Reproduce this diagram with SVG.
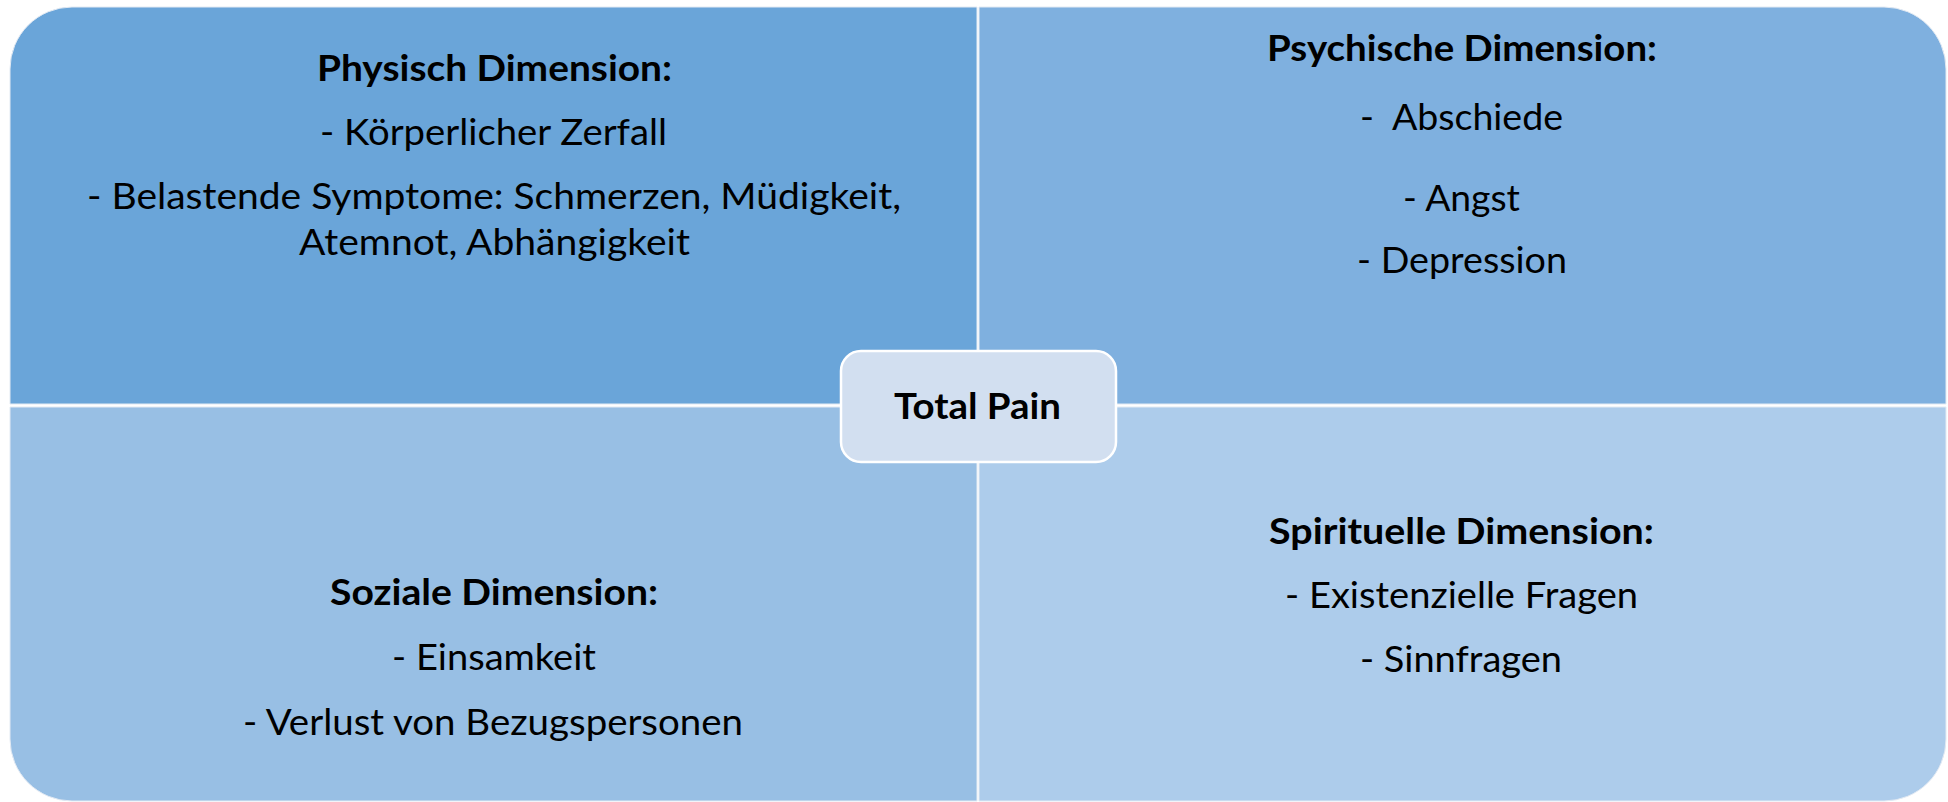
<svg xmlns="http://www.w3.org/2000/svg" width="1948" height="802" viewBox="0 0 1948 802">
<style>
text{font-family:Lato,"Open Sans","Liberation Sans",sans-serif;font-size:37px;fill:#000}
.h{font-weight:bold}
.q{stroke:#e3eaf3;stroke-width:1}
</style>
<rect x="0" y="0" width="1948" height="802" fill="#fff"/>
<g id="physisch">
<path class="q" d="M10,404 V69 A62,62 0 0 1 72,7 H977 V404 Z" fill="#6aa5d9"/>
<text class="h" x="317" y="81" textLength="355" lengthAdjust="spacingAndGlyphs">Physisch Dimension:</text>
<text x="320" y="145" textLength="347" lengthAdjust="spacingAndGlyphs">- Körperlicher Zerfall</text>
<text x="87" y="209" textLength="814" lengthAdjust="spacingAndGlyphs">- Belastende Symptome: Schmerzen, Müdigkeit,</text>
<text x="299" y="255" textLength="391" lengthAdjust="spacingAndGlyphs">Atemnot, Abhängigkeit</text>
</g>
<g id="psychisch">
<path class="q" d="M979,7 H1884 A62,62 0 0 1 1946,69 V404 H979 Z" fill="#7fb0df"/>
<text class="h" x="1267" y="61" textLength="390" lengthAdjust="spacingAndGlyphs">Psychische Dimension:</text>
<text x="1360" y="130" textLength="203" lengthAdjust="spacingAndGlyphs" xml:space="preserve" style="white-space:pre">-  Abschiede</text>
<text x="1403" y="211" textLength="117" lengthAdjust="spacingAndGlyphs">- Angst</text>
<text x="1357" y="273" textLength="210" lengthAdjust="spacingAndGlyphs">- Depression</text>
</g>
<g id="sozial">
<path class="q" d="M10,407 H977 V801 H72 A62,62 0 0 1 10,739 Z" fill="#98bfe4"/>
<text class="h" x="330" y="605" textLength="328" lengthAdjust="spacingAndGlyphs">Soziale Dimension:</text>
<text x="392" y="670" textLength="204" lengthAdjust="spacingAndGlyphs">- Einsamkeit</text>
<text x="243" y="735" textLength="500" lengthAdjust="spacingAndGlyphs">- Verlust von Bezugspersonen</text>
</g>
<g id="spirituell">
<path class="q" d="M979,407 H1946 V739 A62,62 0 0 1 1884,801 H979 Z" fill="#adcceb"/>
<text class="h" x="1269" y="544" textLength="385" lengthAdjust="spacingAndGlyphs">Spirituelle Dimension:</text>
<text x="1285" y="608" textLength="353" lengthAdjust="spacingAndGlyphs">- Existenzielle Fragen</text>
<text x="1360" y="672" textLength="202" lengthAdjust="spacingAndGlyphs">- Sinnfragen</text>
</g>
<g id="connectors"></g>
<g id="total-pain">
<rect x="841" y="351" width="275" height="111" rx="20" ry="20" fill="#d2dff0" stroke="#fff" stroke-width="2.5"/>
<text class="h" x="894" y="419" textLength="167" lengthAdjust="spacingAndGlyphs">Total Pain</text>
</g>
</svg>
